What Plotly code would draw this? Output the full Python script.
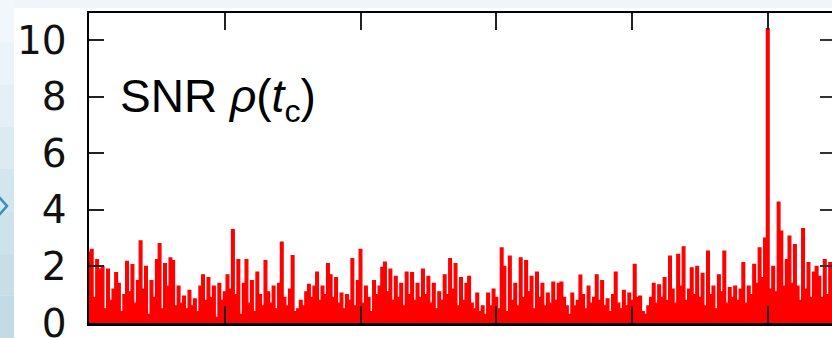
import numpy as np
import plotly.graph_objects as go

# SNR time series (uniform sampling, dt = 0.02 axis units)
snr = [
    2.5, 2.6, 0.9, 2.24, 1.9, 2.0, 0.5, 1.9, 0.8, 1.2,
    1.78, 1.4, 0.4, 1.0, 2.18, 1.1, 2.06, 0.7, 1.5, 2.9,
    1.2, 2.0, 0.3, 1.5, 0.9, 2.24, 2.8, 0.5, 2.1, 1.3,
    2.3, 2.2, 0.6, 1.3, 0.7, 0.95, 0.5, 1.15, 0.6, 0.85,
    0.4, 1.3, 1.7, 0.8, 1.6, 0.9, 1.3, 0.2, 1.4, 0.8,
    1.1, 1.7, 1.2, 3.3, 1.0, 2.24, 0.3, 1.4, 2.24, 0.7,
    1.5, 0.4, 1.8, 1.0, 0.6, 2.2, 1.1, 0.7, 1.3, 0.5,
    1.4, 2.86, 0.9, 0.6, 1.2, 2.38, 0.4, 0.5, 0.8, 0.6,
    1.1, 1.36, 0.9, 1.3, 1.8, 0.8, 1.3, 1.0, 2.1, 1.7,
    0.9, 1.6, 0.7, 1.05, 0.5, 1.0, 0.8, 2.27, 0.6, 1.5,
    2.6, 0.7, 1.3, 0.9, 0.4, 1.5, 1.0, 1.3, 1.96, 2.15,
    1.1, 1.9, 0.8, 1.65, 0.9, 1.4, 0.6, 1.8, 1.0, 1.78,
    0.8, 1.4, 0.9, 1.9, 1.0, 1.65, 0.7, 1.4, 0.5, 1.1,
    0.8, 1.7, 1.0, 2.27, 1.2, 2.1, 0.6, 1.6, 0.8, 1.4,
    1.65, 0.7, 0.5, 1.05, 0.4, 0.6, 0.3, 1.05, 0.6, 1.2,
    0.9, 0.5, 2.65, 2.0, 0.4, 2.36, 0.8, 1.4, 0.6, 2.3,
    0.9, 2.2, 1.1, 1.65, 0.5, 1.8, 0.9, 1.4, 0.6, 1.05,
    0.7, 1.44, 0.8, 1.4, 1.44, 0.9, 0.6, 0.3, 1.05, 0.6,
    0.8, 1.69, 1.0, 0.5, 1.3, 0.7, 0.9, 1.7, 0.8, 1.5,
    0.6, 0.85, 0.4, 1.0, 1.8, 0.7, 0.5, 1.15, 0.6, 1.05,
    0.8, 2.07, 0.9, 0.95, 0.4, 0.3, 0.6, 0.9, 1.4, 0.7,
    1.35, 0.9, 1.6, 0.8, 2.36, 1.2, 0.7, 2.42, 1.3, 2.69,
    0.8, 1.2, 1.95, 1.0, 2.0, 0.9, 1.75, 0.6, 2.54, 1.0,
    1.3, 0.5, 1.7, 1.1, 2.54, 0.7, 1.25, 0.9, 1.3, 0.8,
    1.2, 2.13, 0.7, 1.3, 1.0, 2.07, 1.4, 2.65, 1.6, 3.0,
    10.4, 1.2, 2.0, 1.1, 4.27, 3.24, 1.3, 2.24, 3.07, 1.4,
    2.77, 1.3, 0.8, 3.33, 1.2, 2.13, 0.9, 1.8, 2.0, 1.65,
    0.9, 2.24, 1.0, 2.13, 1.5,
]
dt = 0.02
t = np.arange(len(snr)) * dt

y_ticks = [0, 2, 4, 6, 8, 10]
y_tick_labels = ["0", "2", "4", "6", "8", "10"]
x_ticks = [0, 1, 2, 3, 4, 5]
label_text = "SNR <i>ρ</i>(<i>t</i><sub>c</sub>)"

W, H = 832, 338
ML, MR, MT, MB = 89, 0, 13, 15
pw, ph = W - ML - MR, H - MT - MB


def px_to_paper(px, py):
    return (px - ML) / pw, (H - MB - py) / ph


fig = go.Figure()
fig.add_trace(go.Scatter(
    x=t, y=snr, mode="lines",
    line=dict(color="#ff0000", width=1.3, shape="hvh"),
    fill="tozeroy", fillcolor="#ff0000",
    hoverinfo="skip", showlegend=False,
))
# invisible trace to realise the right-hand tick axis
fig.add_trace(go.Scatter(
    x=[t[0]], y=[0], yaxis="y2", mode="markers",
    marker=dict(opacity=0), hoverinfo="skip", showlegend=False,
))

shapes = []
# left slide-background strip (vertical gradient)
band_cols = ["#f1f7fa", "#ebf4f8", "#e4f0f5", "#dcebf1", "#d4e6ed",
             "#cde2ea", "#c7dee7", "#c2dbe4"]
nb = len(band_cols)
for i, c in enumerate(band_cols):
    y0p = H * i / nb
    y1p = H * (i + 1) / nb
    x0, ya = px_to_paper(0, y0p)
    x1, yb = px_to_paper(14, y1p)
    shapes.append(dict(type="rect", xref="paper", yref="paper", x0=x0, x1=x1,
                       y0=yb, y1=ya, fillcolor=c, line=dict(width=0), layer="below"))
# white figure panel
x0, y0 = px_to_paper(14, 8)
x1, y1 = px_to_paper(W, H)
shapes.append(dict(type="rect", xref="paper", yref="paper", x0=x0, x1=x1,
                   y0=y1, y1=y0, fillcolor="white", line=dict(width=0), layer="below"))
# small chevron of the slide
a = px_to_paper(-1, 197)
b = px_to_paper(7, 206)
c = px_to_paper(-1, 215)
shapes.append(dict(type="path", xref="paper", yref="paper",
                   path=f"M {a[0]} {a[1]} L {b[0]} {b[1]} L {c[0]} {c[1]}",
                   line=dict(color="#3a8db8", width=2.5), layer="above"))

fig.update_layout(
    width=W, height=H,
    margin=dict(l=ML, r=MR, t=MT, b=MB, pad=0, autoexpand=False),
    paper_bgcolor="#eff6f9",
    plot_bgcolor="white",
    shapes=shapes,
    xaxis=dict(
        range=[0, pw / 135.75], tickvals=x_ticks, showticklabels=False,
        ticks="inside", ticklen=17, tickwidth=2, tickcolor="#222",
        showline=True, linecolor="black", linewidth=2.5, mirror="ticks",
        showgrid=False, zeroline=False, automargin=False,
    ),
    yaxis=dict(
        range=[0, 10.95], tickvals=y_ticks, ticktext=y_tick_labels,
        ticks="inside", ticklen=15, tickwidth=2, tickcolor="#222",
        showline=True, linecolor="black", linewidth=2.5, mirror=False,
        showgrid=False, zeroline=False, ticklabelstandoff=12,
        automargin=False, ticklabeloverflow="allow",
        tickfont=dict(family="DejaVu Sans", size=39, color="#111"),
    ),
    yaxis2=dict(
        range=[0, 10.95], tickvals=y_ticks, overlaying="y", side="right",
        ticks="inside", ticklen=12, tickwidth=2, tickcolor="#333",
        showticklabels=False, showline=False, showgrid=False, zeroline=False,
        automargin=False,
    ),
    annotations=[dict(
        text=label_text, xref="paper", yref="y",
        x=(118 - ML) / pw, y=7.9, xanchor="left", yanchor="middle",
        showarrow=False,
        font=dict(family="Liberation Sans", size=46, color="black"),
    )],
)

fig.write_html(
    "out.html",
    config={"displayModeBar": False, "staticPlot": True},
    post_script="document.body.style.margin='0';document.body.style.overflow='hidden';",
)
